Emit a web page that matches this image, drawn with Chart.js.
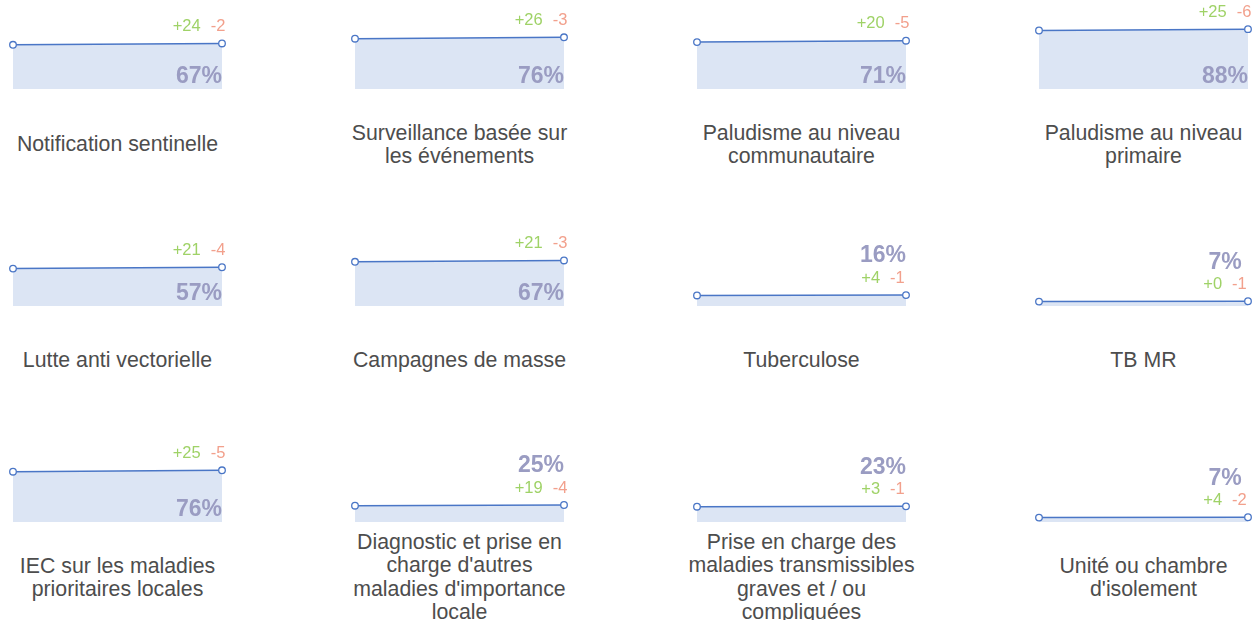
<!DOCTYPE html>
<html lang="fr">
<head>
<meta charset="utf-8">
<title>Indicateurs</title>
<script src="https://cdn.jsdelivr.net/npm/chart.js@4"></script>
<style>
    html, body { margin: 0; padding: 0; background: #fff; overflow: hidden; }
    body { width: 1255px; height: 620px; position: relative; font-family: "Liberation Sans", Arial, sans-serif; }
    .panel { position: absolute; line-height: 0; }
    .title {
        position: absolute;
        width: 280px;
        text-align: center;
        font-size: 21.3px;
        line-height: 23.3px;
        color: #4d4d4d;
        white-space: pre-line;
        transform: translateY(-50%);
    }
</style>
</head>
<body>
<script>
// Data
var titles = [
    'Notification sentinelle',
    'Surveillance basée sur\nles événements',
    'Paludisme au niveau\ncommunautaire',
    'Paludisme au niveau\nprimaire',
    'Lutte anti vectorielle',
    'Campagnes de masse',
    'Tuberculose',
    'TB MR',
    'IEC sur les maladies\nprioritaires locales',
    'Diagnostic et prise en\ncharge d\'autres\nmaladies d\'importance\nlocale',
    'Prise en charge des\nmaladies transmissibles\ngraves et / ou\ncompliquées',
    'Unité ou chambre\nd\'isolement'
];
var periods = ['Avant', 'Après'];
var startValues = [65, 74, 69, 86, 55, 65, 15.5, 6.5, 74, 24, 22.5, 6.5];
var endValues = [67, 76, 71, 88, 57, 67, 16, 7, 76, 25, 23, 7];
var gains = [24, 26, 20, 25, 21, 21, 4, 0, 25, 19, 3, 4];
var losses = [2, 3, 5, 6, 4, 3, 1, 1, 5, 4, 1, 2];

// Layout of the grid
var colLefts = [13, 355, 697, 1039];
var rowBottoms = [89, 306, 522];
var titleCenters = [145, 361, 578];
var plotW = 209, plotH = 68, padX = 12, padTop = 22, padBottom = 6;

var lineColor = '#4a76c6';
var fillColor = '#dce5f4';
var pctColor = '#9a9cc2';
var gainColor = '#9fd267';
var lossColor = '#f2a08c';

var labelPlugin = {
    id: 'panelLabels',
    afterDatasetsDraw: function(chart) {
        var i = chart.options.plugins.panelLabels.index;
        var ctx = chart.ctx;
        var area = chart.chartArea;
        var pts = chart.getDatasetMeta(0).data;
        var last = pts[pts.length - 1];
        var cx = area.right - 23;
        var value = endValues[i];
        var pctY, deltaY = last.y - 17;
        if (value >= 40) {
            pctY = area.bottom - 12;
        } else {
            pctY = last.y - 39;
        }
        ctx.save();
        ctx.textBaseline = 'middle';
        ctx.textAlign = 'center';
        ctx.font = 'bold 23px "Liberation Sans", Arial, sans-serif';
        ctx.fillStyle = pctColor;
        ctx.fillText(value + '%', cx, pctY);

        ctx.font = '16.5px "Liberation Sans", Arial, sans-serif';
        var g = '+' + gains[i];
        var l = '-' + losses[i];
        var gw = ctx.measureText(g).width;
        var lw = ctx.measureText(l).width;
        var gap = 10;
        var x0 = cx - (gw + gap + lw) / 2;
        ctx.textAlign = 'left';
        ctx.fillStyle = gainColor;
        ctx.fillText(g, x0, deltaY);
        ctx.fillStyle = lossColor;
        ctx.fillText(l, x0 + gw + gap, deltaY);
        ctx.restore();
    }
};

titles.forEach(function(title, i) {
    var col = i % 4;
    var row = Math.floor(i / 4);

    var panel = document.createElement('div');
    panel.className = 'panel';
    panel.style.left = (colLefts[col] - padX) + 'px';
    panel.style.top = (rowBottoms[row] - plotH - padTop) + 'px';
    var canvas = document.createElement('canvas');
    canvas.width = plotW + padX * 2;
    canvas.height = plotH + padTop + padBottom;
    panel.appendChild(canvas);
    document.body.appendChild(panel);

    var t = document.createElement('div');
    t.className = 'title';
    t.textContent = title;
    t.style.left = (colLefts[col] + plotW / 2 - 140) + 'px';
    t.style.top = titleCenters[row] + 'px';
    document.body.appendChild(t);

    new Chart(canvas.getContext('2d'), {
        type: 'line',
        data: {
            labels: periods,
            datasets: [{
                data: [startValues[i], endValues[i]],
                borderColor: lineColor,
                borderWidth: 1.5,
                backgroundColor: fillColor,
                fill: 'origin',
                tension: 0,
                pointRadius: 3.3,
                pointBackgroundColor: '#fff',
                pointBorderColor: lineColor,
                pointBorderWidth: 1.3,
                clip: false
            }]
        },
        options: {
            responsive: false,
            animation: false,
            layout: {
                autoPadding: false,
                padding: { left: padX, right: padX, top: padTop, bottom: padBottom }
            },
            scales: {
                x: { display: false, offset: false },
                y: { display: false, min: 0, max: 100 }
            },
            plugins: {
                legend: { display: false },
                tooltip: { enabled: false },
                panelLabels: { index: i }
            }
        },
        plugins: [labelPlugin]
    });
});
</script>
</body>
</html>
